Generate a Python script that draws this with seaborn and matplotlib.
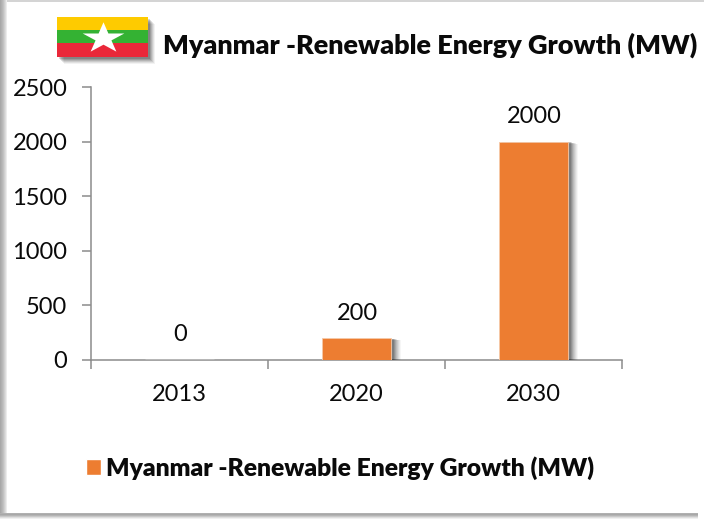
import matplotlib
matplotlib.use("Agg")
import matplotlib.pyplot as plt
import matplotlib.patheffects as pe
from matplotlib.patches import Rectangle
from matplotlib.path import Path
from matplotlib.transforms import Affine2D
import pandas as pd
import seaborn as sns

years = ["2013", "2020", "2030"]
capacity_mw = [0, 200, 2000]
series_name = "Myanmar -Renewable Energy Growth (MW)"
y_ticks = [0, 500, 1000, 1500, 2000, 2500]

W, H = 704, 519
sns.set_theme(style="white")
plt.rcParams["font.family"] = ["Lato", "DejaVu Sans"]
fig = plt.figure(figsize=(W / 100, H / 100), dpi=100, facecolor="white")

def fx(x): return x / W
def fy(y): return 1 - y / H

def frect(x0, y0, x1, y1, color, z=1, alpha=1.0, **kw):
    fig.add_artist(Rectangle((fx(x0), fy(y1)), (x1 - x0) / W, (y1 - y0) / H,
                             transform=fig.transFigure, facecolor=color,
                             edgecolor="none", zorder=z, alpha=alpha, **kw))

# card shadow
for i, c in enumerate(["#a8a8a8", "#b0b0b0", "#b8b8b8", "#c2c2c2", "#cfcfcf", "#dcdcdc", "#ececec"]):
    frect(i, 0, i + 1, 513, c, z=0.5)
for i, c in enumerate(["#b0b0b0", "#a8a8a8", "#b4b4b4", "#c8c8c8", "#dedede", "#f0f0f0"]):
    frect(0, 513 + i, 698, 514 + i, c, z=0.5)
frect(7, 0, 704, 1.5, "#d4d4d4", z=0.5)

ax = fig.add_axes([fx(91), fy(360), (622 - 91) / W, (360 - 87) / H], facecolor="none")
df = pd.DataFrame({"year": years, "mw": capacity_mw, "series": series_name})
sns.barplot(data=df, x="year", y="mw", hue="series", palette=["#ed7d31"], saturation=1,
            width=0.395, ax=ax, dodge=False, zorder=3, legend=True)
ax.set_xlim(-0.5, 2.5)
ax.set_ylim(0, 2500)
ax.set_xlabel("")
ax.set_ylabel("")

shadow_layers = [(6.6, 0.035), (5.9, 0.05), (5.2, 0.06), (4.5, 0.07),
                 (3.8, 0.08), (3.1, 0.10), (2.4, 0.12), (1.7, 0.14)]
for bar in ax.patches:
    if bar.get_height() > 0:
        bar.set_edgecolor("#f6c9a8")
        bar.set_linewidth(0.6)
        bar.set_path_effects(
            [pe.SimplePatchShadow(offset=(d, -d / 4), shadow_rgbFace="#000000", alpha=a)
             for d, a in shadow_layers] + [pe.Normal()])

for i, v in enumerate(capacity_mw):
    ax.annotate(str(v), (i, v), xytext=(0.5, 10.5),
                textcoords="offset points", ha="center", va="bottom",
                fontsize=17, color="#0a0a0a", zorder=5)

for s in ["top", "right"]:
    ax.spines[s].set_visible(False)
for s in ["left", "bottom"]:
    ax.spines[s].set_color("#8c8c8c")
    ax.spines[s].set_linewidth(1.1)

ax.set_yticks(y_ticks)
ax.set_xticks([-0.5, 0.5, 1.5, 2.5], labels=["", "", "", ""])
ax.set_xticks([0, 1, 2], labels=years, minor=True)
ax.tick_params(axis="x", which="major", length=6.5, width=1.1, color="#8c8c8c", bottom=True)
ax.tick_params(axis="x", which="minor", length=0, pad=17, labelsize=17, labelcolor="#0a0a0a")
ax.tick_params(axis="y", length=6.5, width=1.1, color="#8c8c8c", left=True, pad=10.5,
               labelsize=17, labelcolor="#0a0a0a")

# title
ax.set_title(series_name, fontsize=19.47, fontweight=800, color="#0a0a0a",
             loc="left", x=(163 - 91) / (622 - 91), y=(360 - 54) / (360 - 87), pad=0)

# legend
handles, labels = ax.get_legend_handles_labels()
leg = fig.legend(handles, labels, loc="center left",
                 bbox_to_anchor=(fx(86), fy(468)), frameon=False,
                 handlelength=0.6, handleheight=0.62, handletextpad=0.22,
                 prop={"family": "Lato", "weight": 800, "size": 17.75},
                 labelcolor="#0a0a0a", borderpad=0, borderaxespad=0)
ax.get_legend().remove() if ax.get_legend() else None

# flag
for k, c in [(7, 0.05), (6, 0.07), (5, 0.09), (4, 0.11), (3, 0.13), (2, 0.15)]:
    frect(57 + k, 17 + k, 148 + k, 57 + k, "#000000", z=2, alpha=c)
frect(57, 17, 148, 30.5, "#fecb00", z=3)
frect(57, 30.5, 148, 43.5, "#34b233", z=3)
frect(57, 43.5, 148, 57, "#ea2839", z=3)
fax = fig.add_axes([fx(57), fy(57), 91 / W, 40 / H], facecolor="none", zorder=4)
fax.set_xlim(0, 91); fax.set_ylim(40, 0); fax.axis("off")
star = Path.unit_regular_star(5, 0.381).transformed(Affine2D().scale(1.35, 1))
fax.scatter([45.5], [21.0], marker=star, s=900, color="white", linewidths=0)

fig.savefig("out.png", dpi=100, facecolor=fig.get_facecolor())
